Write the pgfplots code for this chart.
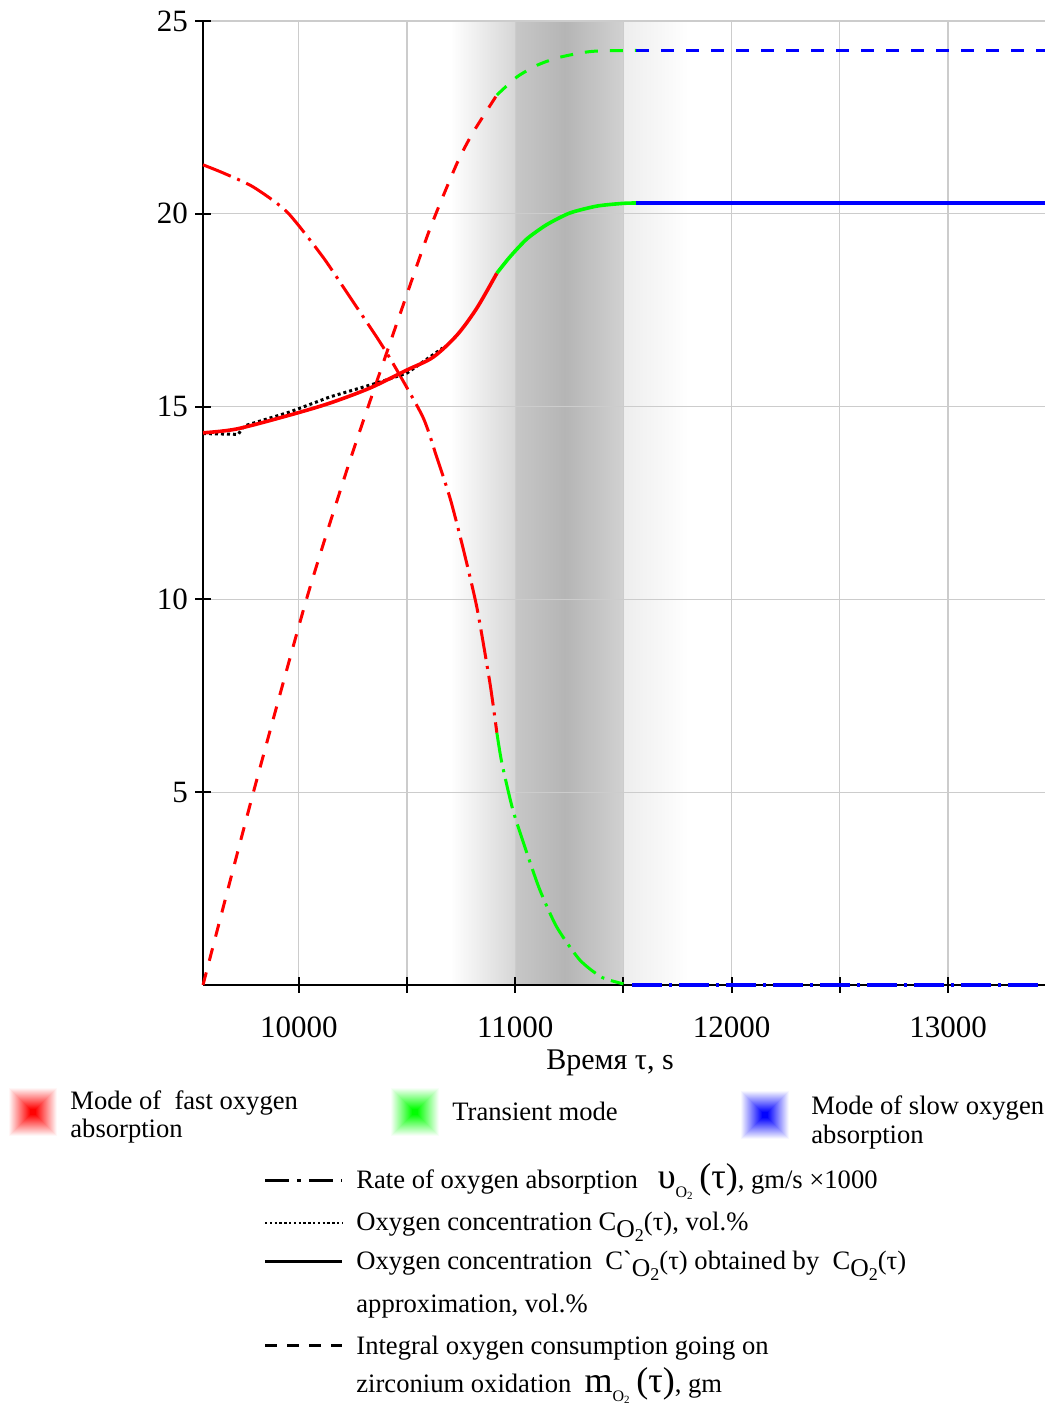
\documentclass[border=0pt]{standalone}
\usepackage{fontspec}
\setmainfont{Liberation Serif}
\usepackage{pgfplots}
\pgfplotsset{compat=1.18}
\pgfkeys{/pgf/number format/1000 sep={}}
\definecolor{cR}{RGB}{255,0,0}
\definecolor{cG}{RGB}{0,255,0}
\definecolor{cB}{RGB}{0,0,255}
\tikzset{
  dd/.style={dash pattern=on 15pt off 3.5pt on 1.5pt off 3.5pt},
  ds/.style={dash pattern=on 6.5pt off 6pt},
  dt/.style={dash pattern=on 1.5pt off 1.5pt},
}
\newcommand{\lf}{\fontsize{13.3}{15}\selectfont}
\newcommand{\Obig}{\raisebox{-0.55ex}{\fontsize{12.8}{12.8}\selectfont O\raisebox{-0.3ex}{\fontsize{9}{9}\selectfont 2}}}
\newcommand{\Osmall}{\raisebox{-0.7ex}{\fontsize{8}{8}\selectfont O\raisebox{-0.3ex}{\fontsize{5.5}{5.5}\selectfont 2}}}
\newcommand{\glow}[3]{% color, cx, cy (pixel units)
  \foreach \i in {0,...,21}{%
    \pgfmathsetmacro{\hs}{24-1.0*\i}%
    \pgfmathsetmacro{\pc}{3+4.6*\i}%
    \fill[#1!\pc!white] ({#2-\hs},{#3-\hs}) rectangle ({#2+\hs},{#3+\hs});
  }}
\begin{document}
\begin{tikzpicture}
\begin{axis}[
  at={(101.5pt,211.5pt)}, anchor=south west,
  scale only axis, width=421pt, height=482pt,
  xmin=9557, xmax=13448, ymin=0, ymax=25,
  set layers, clip=false,
  axis x line=bottom, axis y line=left,
  axis line style={-, line width=1pt, black},
  xtick={10000,11000,12000,13000},
  minor xtick={10500,11500,12500},
  ytick={5,10,15,20,25},
  grid=both,
  major grid style={draw=black!20, line width=0.6pt},
  minor grid style={draw=black!20, line width=0.6pt},
  tick align=center,
  major tick length=8pt, minor tick length=8pt,
  every tick/.style={black, line width=1pt},
  ticklabel style={font=\fontsize{15.5}{18}\selectfont},
  xticklabel style={yshift=-8.5pt},
  /pgf/number format/assume math mode=true,
  scaled x ticks=false,
]
\begin{pgfonlayer}{axis background}
\fill[left color=white, right color=black!16, draw=none] (10700,0) rectangle (11000,25);
\fill[left color=black!22, right color=black!29, draw=none] (11000,0) rectangle (11230,25);
\fill[left color=black!29, right color=black!18, draw=none] (11230,0) rectangle (11500,25);
\fill[left color=black!7, right color=white, draw=none] (11500,0) rectangle (11800,25);
\end{pgfonlayer}

% Rate of oxygen absorption (dash-dot)
\addplot[cR, line width=1.5pt, dd, smooth, tension=0.4] coordinates {
(9557,21.27) (9650,21.06) (9788,20.70) (9945,20.05) (10111,18.88) (10236,17.84)
(10360,16.80) (10434,16.13) (10573,14.73) (10637,13.69) (10700,12.6) (10760,11.3)
(10823,9.78) (10883,7.83) (10915,6.54)};
\addplot[cG, line width=1.5pt, dd, smooth, tension=0.4] coordinates {
(10915,6.54) (10938,5.76) (10989,4.54) (11054,3.42) (11114,2.46) (11192,1.50)
(11298,0.65) (11400,0.2) (11500,0.03)};
\addplot[cB, line width=2pt, dd] coordinates {(11540,0) (13448,0)};

% Integral oxygen consumption (dashed)
\addplot[cR, line width=1.5pt, ds, smooth, tension=0.4] coordinates {
(9557,0) (9790,5) (10035,10) (10236,13.6) (10406,16.4) (10480,17.6) (10605,19.6)
(10730,21.3) (10804,22.1) (10915,23.08)};
\addplot[cG, line width=1.5pt, ds, smooth, tension=0.4] coordinates {
(10915,23.08) (11008,23.55) (11100,23.85) (11192,24.04) (11300,24.17) (11377,24.22) (11560,24.24)};
\addplot[cB, line width=1.6pt, ds] coordinates {(11560,24.24) (13448,24.24)};

% Oxygen concentration measured (dotted)
\addplot[black, line width=1.5pt, dt] coordinates {
(9557,14.3) (9720,14.28) (9740,14.45) (9760,14.52) (9958,14.86) (10143,15.25)
(10360,15.61) (10500,15.87) (10665,16.52)};

% Approximation (solid)
\addplot[cR, line width=1.8pt, smooth, tension=0.5] coordinates {
(9557,14.32) (9713,14.42) (9958,14.78) (10143,15.09) (10328,15.48) (10500,15.95)
(10620,16.28) (10730,16.85) (10822,17.55) (10915,18.46)};
\addplot[cG, line width=1.8pt, smooth, tension=0.4] coordinates {
(10915,18.46) (10975,18.88) (11054,19.35) (11146,19.72) (11252,20.02) (11377,20.2)
(11497,20.27) (11560,20.28)};
\addplot[cB, line width=1.8pt] coordinates {(11560,20.28) (13448,20.28)};
\end{axis}

\begin{scope}[x=0.5pt, y=-0.5pt, shift={(0pt,704pt)}]
\node[anchor=base, font=\fontsize{15}{18}\selectfont] at (610,1070) {Время τ, s};

% mode legend
\glow{cR}{33}{1112}
\glow{cG}{415}{1112}
\glow{cB}{765}{1115}
\node[anchor=base west, inner sep=0, font=\lf] at (70,1110) {Mode of\ \ fast oxygen};
\node[anchor=base west, inner sep=0, font=\lf] at (70,1138) {absorption};
\node[anchor=base west, inner sep=0, font=\lf] at (452,1121) {Transient mode};
\node[anchor=base west, inner sep=0, font=\lf] at (811,1115) {Mode of slow oxygen};
\node[anchor=base west, inner sep=0, font=\lf] at (811,1144) {absorption};

% line style legend
\draw[black, line width=1.5pt, dash pattern=on 12pt off 4pt on 2pt off 4pt] (265,1181) -- (342,1181);
\draw[black, line width=1.2pt, dash pattern=on 1.2pt off 1.2pt] (265,1223) -- (342,1223);
\draw[black, line width=1.5pt] (265,1262) -- (342,1262);
\draw[black, line width=1.5pt, dash pattern=on 6pt off 5pt] (265,1346) -- (342,1346);

\node[anchor=base west, inner sep=0, font=\lf] at (356,1189) {Rate of oxygen absorption\ \ \ {\fontsize{18}{18}\selectfont υ}\Osmall\ {\fontsize{18}{18}\selectfont(τ)}, gm/s ×1000};
\node[anchor=base west, inner sep=0, font=\lf] at (356,1231) {Oxygen concentration C\Obig(τ), vol.\%};
\node[anchor=base west, inner sep=0, font=\lf] at (356,1270) {Oxygen concentration\ \ C\textasciigrave\Obig(τ) obtained by\ \ C\Obig(τ)};
\node[anchor=base west, inner sep=0, font=\lf] at (356,1313) {approximation, vol.\%};
\node[anchor=base west, inner sep=0, font=\lf] at (356,1354) {Integral oxygen consumption going on};
\node[anchor=base west, inner sep=0, font=\lf] at (356,1393) {zirconium oxidation\ \ {\fontsize{18}{18}\selectfont m}\Osmall\ {\fontsize{18}{18}\selectfont(τ)}, gm};
\end{scope}
\pgfresetboundingbox
\useasboundingbox (0,0) rectangle (525.5pt,704pt);
\end{tikzpicture}
\end{document}
